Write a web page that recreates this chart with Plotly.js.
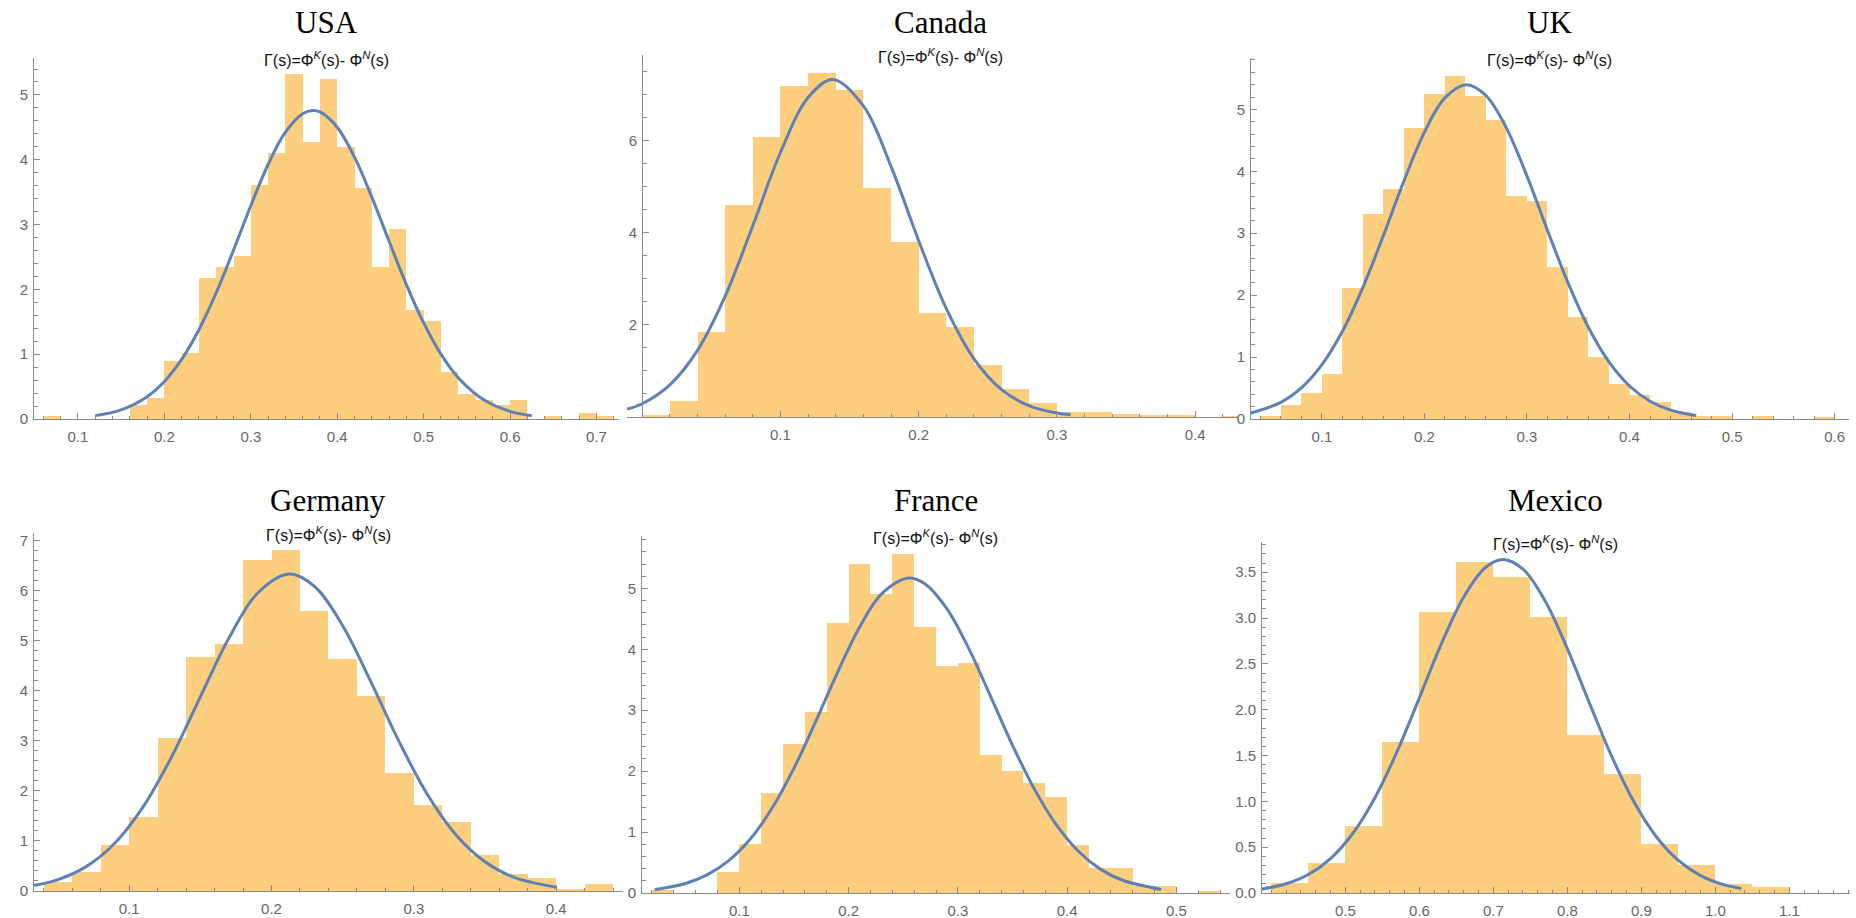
<!DOCTYPE html>
<html><head><meta charset="utf-8">
<script src="https://cdn.plot.ly/plotly-3.0.1.min.js"></script>
<style>html,body{margin:0;padding:0;background:#fff}#chart{width:1856px;height:918px}</style>
</head><body><div id="chart"></div>
<script>
// ---------------- DATA ----------------
const countries = ["USA", "Canada", "UK", "Germany", "France", "Mexico"];
const subtitleText = "Γ(s)=Φ<sup><i>K</i></sup>(s)- Φ<sup><i>N</i></sup>(s)";

const usaBinWidth = 0.02;
const usaBinLeft = [0.06, 0.16, 0.18, 0.20, 0.22, 0.24, 0.26, 0.28, 0.30, 0.32, 0.34, 0.36, 0.38, 0.40, 0.42, 0.44, 0.46, 0.48, 0.50, 0.52, 0.54, 0.56, 0.58, 0.60, 0.64, 0.68, 0.70];
const usaDensity = [0.05, 0.22, 0.32, 0.89, 1.02, 2.18, 2.35, 2.52, 3.61, 4.11, 5.32, 4.27, 5.24, 4.19, 3.56, 2.35, 2.93, 1.68, 1.51, 0.73, 0.38, 0.30, 0.22, 0.30, 0.05, 0.10, 0.05];
const usaCurveX = [0.12, 0.15, 0.18, 0.20, 0.22, 0.24, 0.26, 0.28, 0.30, 0.32, 0.34, 0.36, 0.372, 0.38, 0.40, 0.42, 0.44, 0.46, 0.48, 0.50, 0.52, 0.54, 0.57, 0.60, 0.625];
const usaCurveY = [0.052, 0.142, 0.345, 0.579, 0.919, 1.377, 1.949, 2.605, 3.291, 3.927, 4.425, 4.711, 4.76, 4.738, 4.502, 4.040, 3.424, 2.743, 2.074, 1.482, 1.001, 0.638, 0.292, 0.117, 0.050];
const usaXTicks = [0.1, 0.2, 0.3, 0.4, 0.5, 0.6, 0.7];
const usaYTicks = [0, 1, 2, 3, 4, 5];

const canadaBinWidth = 0.02;
const canadaBinLeft = [0.00, 0.02, 0.04, 0.06, 0.08, 0.10, 0.12, 0.14, 0.16, 0.18, 0.20, 0.22, 0.24, 0.26, 0.28, 0.30, 0.32, 0.34, 0.36, 0.38, 0.42];
const canadaDensity = [0.05, 0.35, 1.84, 4.60, 6.09, 7.18, 7.47, 7.09, 4.97, 3.81, 2.26, 1.96, 1.13, 0.60, 0.30, 0.10, 0.10, 0.06, 0.05, 0.04, 0.03];
const canadaCurveX = [-0.011, 0.0, 0.02, 0.04, 0.06, 0.08, 0.10, 0.12, 0.138, 0.16, 0.18, 0.20, 0.22, 0.24, 0.26, 0.28, 0.30, 0.31];
const canadaCurveY = [0.172, 0.288, 0.698, 1.447, 2.623, 4.152, 5.743, 6.939, 7.33, 6.755, 5.441, 3.828, 2.354, 1.264, 0.593, 0.243, 0.087, 0.049];
const canadaXTicks = [0.1, 0.2, 0.3, 0.4];
const canadaYTicks = [2, 4, 6];

const ukBinWidth = 0.02;
const ukBinLeft = [0.04, 0.06, 0.08, 0.10, 0.12, 0.14, 0.16, 0.18, 0.20, 0.22, 0.24, 0.26, 0.28, 0.30, 0.32, 0.34, 0.36, 0.38, 0.40, 0.42, 0.44, 0.46, 0.48, 0.52, 0.58];
const ukDensity = [0.05, 0.22, 0.42, 0.73, 2.12, 3.31, 3.72, 4.70, 5.25, 5.54, 5.21, 4.83, 3.60, 3.52, 2.46, 1.65, 1.00, 0.56, 0.38, 0.28, 0.12, 0.05, 0.05, 0.05, 0.03];
const ukCurveX = [0.03, 0.06, 0.08, 0.10, 0.12, 0.14, 0.16, 0.18, 0.20, 0.22, 0.241, 0.26, 0.28, 0.30, 0.32, 0.34, 0.36, 0.38, 0.40, 0.42, 0.44, 0.465];
const ukCurveY = [0.092, 0.269, 0.503, 0.875, 1.413, 2.122, 2.961, 3.841, 4.630, 5.186, 5.40, 5.224, 4.698, 3.926, 3.049, 2.202, 1.477, 0.921, 0.533, 0.287, 0.144, 0.055];
const ukXTicks = [0.1, 0.2, 0.3, 0.4, 0.5, 0.6];
const ukYTicks = [0, 1, 2, 3, 4, 5];

const germanyBinWidth = 0.02;
const germanyBinLeft = [0.04, 0.06, 0.08, 0.10, 0.12, 0.14, 0.16, 0.18, 0.20, 0.22, 0.24, 0.26, 0.28, 0.30, 0.32, 0.34, 0.36, 0.38, 0.40, 0.42];
const germanyDensity = [0.17, 0.38, 0.92, 1.48, 3.06, 4.68, 4.94, 6.61, 6.82, 5.60, 4.64, 3.89, 2.36, 1.72, 1.38, 0.71, 0.33, 0.26, 0.05, 0.14];
const germanyCurveX = [0.0324, 0.05, 0.07, 0.09, 0.11, 0.13, 0.15, 0.17, 0.19, 0.2124, 0.23, 0.25, 0.27, 0.29, 0.31, 0.33, 0.35, 0.37, 0.40];
const germanyCurveY = [0.107, 0.228, 0.492, 0.959, 1.690, 2.691, 3.876, 5.047, 5.942, 6.33, 6.088, 5.298, 4.168, 2.964, 1.906, 1.108, 0.583, 0.277, 0.075];
const germanyXTicks = [0.1, 0.2, 0.3, 0.4];
const germanyYTicks = [0, 1, 2, 3, 4, 5, 6, 7];

const franceBinWidth = 0.02;
const franceBinLeft = [0.02, 0.08, 0.10, 0.12, 0.14, 0.16, 0.18, 0.20, 0.22, 0.24, 0.26, 0.28, 0.30, 0.32, 0.34, 0.36, 0.38, 0.40, 0.42, 0.44, 0.46, 0.48, 0.52];
const franceDensity = [0.05, 0.34, 0.80, 1.64, 2.44, 2.97, 4.44, 5.40, 4.91, 5.57, 4.36, 3.73, 3.77, 2.27, 2.01, 1.80, 1.58, 0.79, 0.41, 0.41, 0.12, 0.12, 0.03];
const franceCurveX = [0.0225, 0.05, 0.07, 0.09, 0.11, 0.13, 0.15, 0.17, 0.19, 0.21, 0.23, 0.255, 0.27, 0.29, 0.31, 0.33, 0.35, 0.37, 0.39, 0.41, 0.43, 0.45, 0.486];
const franceCurveY = [0.055, 0.152, 0.293, 0.527, 0.886, 1.394, 2.050, 2.820, 3.627, 4.363, 4.906, 5.17, 5.073, 4.665, 4.011, 3.225, 2.425, 1.705, 1.121, 0.689, 0.396, 0.213, 0.059];
const franceXTicks = [0.1, 0.2, 0.3, 0.4, 0.5];
const franceYTicks = [0, 1, 2, 3, 4, 5];

const mexicoBinWidth = 0.05;
const mexicoBinLeft = [0.40, 0.45, 0.50, 0.55, 0.60, 0.65, 0.70, 0.75, 0.80, 0.85, 0.90, 0.95, 1.00, 1.05];
const mexicoDensity = [0.11, 0.33, 0.73, 1.65, 3.07, 3.61, 3.45, 3.01, 1.72, 1.30, 0.53, 0.31, 0.10, 0.07];
const mexicoCurveX = [0.386, 0.42, 0.45, 0.48, 0.51, 0.54, 0.57, 0.60, 0.63, 0.66, 0.69, 0.7135, 0.74, 0.77, 0.80, 0.83, 0.86, 0.89, 0.92, 0.95, 0.98, 1.01, 1.035];
const mexicoCurveY = [0.042, 0.101, 0.202, 0.376, 0.649, 1.040, 1.545, 2.129, 2.723, 3.231, 3.557, 3.64, 3.535, 3.187, 2.666, 2.069, 1.490, 0.995, 0.617, 0.355, 0.189, 0.094, 0.049];
const mexicoXTicks = [0.5, 0.6, 0.7, 0.8, 0.9, 1.0, 1.1];
const mexicoYTicks = [0, 0.5, 1.0, 1.5, 2.0, 2.5, 3.0, 3.5];

// ---------------- LAYOUT / STYLE ----------------
const W = 1856, H = 918;
const panels = [
  {name: countries[0], bw: usaBinWidth, bl: usaBinLeft, d: usaDensity, cx: usaCurveX, cy: usaCurveY, xt: usaXTicks, yt: usaYTicks,
   px: [33, 619], yAxisPx: 33, py: [58, 419], xr: [0.048, 0.726], yr: [0, 5.57], xm: 0.02, ym: 0.2, xf: ".1f", yf: ""},
  {name: countries[1], bw: canadaBinWidth, bl: canadaBinLeft, d: canadaDensity, cx: canadaCurveX, cy: canadaCurveY, xt: canadaXTicks, yt: canadaYTicks,
   px: [627, 1238], yAxisPx: 642, py: [55, 417], xr: [-0.011, 0.431], yr: [0, 7.86], xm: 0.02, ym: 0.5, xf: ".1f", yf: ""},
  {name: countries[2], bw: ukBinWidth, bl: ukBinLeft, d: ukDensity, cx: ukCurveX, cy: ukCurveY, xt: ukXTicks, yt: ukYTicks,
   px: [1250, 1849], yAxisPx: 1250, py: [58, 419], xr: [0.030, 0.614], yr: [0, 5.83], xm: 0.02, ym: 0.2, xf: ".1f", yf: ""},
  {name: countries[3], bw: germanyBinWidth, bl: germanyBinLeft, d: germanyDensity, cx: germanyCurveX, cy: germanyCurveY, xt: germanyXTicks, yt: germanyYTicks,
   px: [33, 623], yAxisPx: 33, py: [533, 891], xr: [0.0324, 0.447], yr: [0, 7.15], xm: 0.02, ym: 0.2, xf: ".1f", yf: ""},
  {name: countries[4], bw: franceBinWidth, bl: franceBinLeft, d: franceDensity, cx: franceCurveX, cy: franceCurveY, xt: franceXTicks, yt: franceYTicks,
   px: [641, 1230], yAxisPx: 641, py: [536, 893], xr: [0.010, 0.549], yr: [0, 5.86], xm: 0.02, ym: 0.2, xf: ".1f", yf: ""},
  {name: countries[5], bw: mexicoBinWidth, bl: mexicoBinLeft, d: mexicoDensity, cx: mexicoCurveX, cy: mexicoCurveY, xt: mexicoXTicks, yt: mexicoYTicks,
   px: [1261, 1850], yAxisPx: 1261, py: [542, 893], xr: [0.386, 1.182], yr: [0, 3.83], xm: 0.02, ym: 0.1, xf: ".1f", yf: ".1f"}
];

const barColor = "#FCCE7E";
const curveColor = "#5E81B5";
const axisColor = "#8a8a8a";
const tickFont = {family: "Liberation Sans, Arial, sans-serif", size: 15, color: "#666666"};

const data = [];
const layout = {
  width: W, height: H,
  margin: {l: 0, r: 0, t: 0, b: 0},
  paper_bgcolor: "#ffffff", plot_bgcolor: "rgba(0,0,0,0)",
  showlegend: false, bargap: 0,
  annotations: []
};

panels.forEach((p, i) => {
  const n = i + 1;
  const xa = "x" + (n === 1 ? "" : n), ya = "y" + (n === 1 ? "" : n);
  const xkey = "xaxis" + (n === 1 ? "" : n), ykey = "yaxis" + (n === 1 ? "" : n);
  data.push({
    type: "bar", x: p.bl, y: p.d, width: p.bw, offset: 0,
    marker: {color: barColor, line: {width: 0}},
    xaxis: xa, yaxis: ya, hoverinfo: "skip"
  });
  data.push({
    type: "scatter", mode: "lines", x: p.cx, y: p.cy,
    line: {color: curveColor, width: 3, shape: "spline", smoothing: 1},
    xaxis: xa, yaxis: ya, hoverinfo: "skip"
  });
  layout[xkey] = {
    domain: [p.px[0] / W, p.px[1] / W], anchor: ya,
    range: p.xr, showgrid: false, zeroline: false,
    showline: true, linecolor: axisColor, linewidth: 1,
    ticks: "inside", ticklen: 6, tickcolor: axisColor, tickwidth: 1,
    tickmode: "array", tickvals: p.xt, tickformat: p.xf, tickfont: tickFont, ticklabelstandoff: 4,
    minor: {ticks: "inside", ticklen: 3.5, tickcolor: axisColor, tickwidth: 1, tick0: 0, dtick: p.xm, showgrid: false}
  };
  layout[ykey] = {
    domain: [1 - p.py[1] / H, 1 - p.py[0] / H],
    anchor: "free", position: p.yAxisPx / W, overlaying: undefined,
    range: p.yr, showgrid: false, zeroline: false,
    showline: true, linecolor: axisColor, linewidth: 1,
    ticks: "inside", ticklen: 6, tickcolor: axisColor, tickwidth: 1,
    tickmode: "array", tickvals: p.yt, tickformat: p.yf, tickfont: tickFont, ticklabelstandoff: 2,
    minor: {ticks: "inside", ticklen: 3.5, tickcolor: axisColor, tickwidth: 1, tick0: 0, dtick: p.ym, showgrid: false}
  };
  const cx = (p.yAxisPx + p.px[1]) / 2 / W;
  const titleY = i < 3 ? 23 : 500;
  layout.annotations.push({
    xref: "paper", yref: "paper", x: cx, y: 1 - titleY / H,
    xanchor: "center", yanchor: "middle", showarrow: false,
    text: p.name, font: {family: "Liberation Serif, Times New Roman, serif", size: 31, color: "#000"}
  });
  layout.annotations.push({
    xref: "paper", yref: "paper", x: cx, y: 1 - (p.py[0] + 1) / H,
    xanchor: "center", yanchor: "middle", showarrow: false,
    text: subtitleText, font: {family: "Liberation Sans, Arial, sans-serif", size: 16, color: "#111"}
  });
});

Plotly.newPlot("chart", data, layout, {staticPlot: true, displayModeBar: false});
</script>
</body></html>
